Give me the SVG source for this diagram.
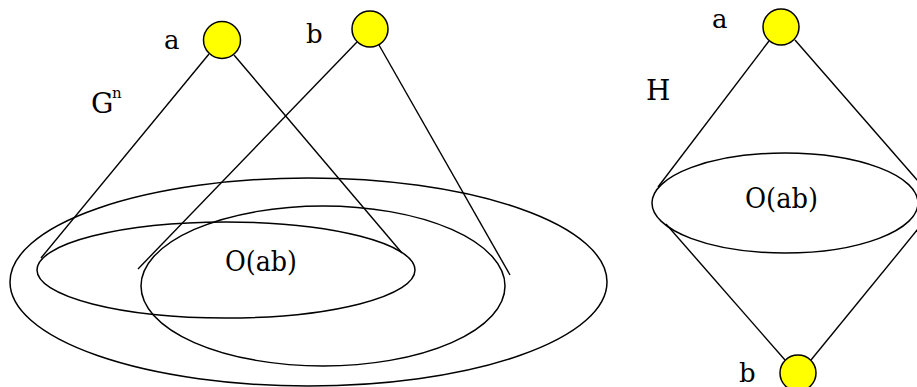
<svg xmlns="http://www.w3.org/2000/svg" width="917" height="387" viewBox="0 0 917 387">
<style>
.bg{fill:#ffffff}
.ell{fill:none;stroke:#000;stroke-width:1.5}
.edge{stroke:#000;stroke-width:1.4;fill:none}
.node{fill:#ffff00;stroke:#000;stroke-width:1.5}
text{font-family:'DejaVu Serif',serif;fill:#000}
.lbl{font-size:26px}
.big{font-size:28px}
.sup{font-size:15px}
</style>
<rect class="bg" x="0" y="0" width="917" height="387"/>
<g id="regions">
  <g id="outer-set"><ellipse class="ell" cx="308.5" cy="282" rx="298.5" ry="104"/></g>
  <g id="set-a"><ellipse class="ell" cx="226" cy="270" rx="189" ry="48"/></g>
  <g id="set-b"><ellipse class="ell" cx="323" cy="286" rx="182" ry="80"/></g>
  <g id="set-h"><ellipse class="ell" cx="785" cy="203" rx="133" ry="50"/></g>
</g>
<g id="connectors">
  <line class="edge" x1="209" y1="54" x2="41" y2="258"/>
  <line class="edge" x1="234" y1="55" x2="402" y2="253"/>
  <line class="edge" x1="357" y1="42" x2="138" y2="269"/>
  <line class="edge" x1="379" y1="45" x2="510" y2="275"/>
  <line class="edge" x1="769" y1="41" x2="658" y2="187"/>
  <line class="edge" x1="795" y1="40" x2="918" y2="181"/>
  <line class="edge" x1="666" y1="224" x2="785" y2="360"/>
  <line class="edge" x1="811" y1="360" x2="918" y2="229"/>
</g>
<g id="node-a-left"><circle class="node" cx="222" cy="40" r="18.5"/><text class="lbl" x="164" y="49">a</text></g>
<g id="node-b-left"><circle class="node" cx="370" cy="29" r="18"/><text class="lbl" x="306" y="43">b</text></g>
<g id="node-a-right"><circle class="node" cx="781" cy="27" r="18"/><text class="lbl" x="712" y="28">a</text></g>
<g id="node-b-right"><circle class="node" cx="798" cy="373" r="18"/><text class="lbl" x="739" y="382">b</text></g>
<g id="labels">
  <text class="big" x="91" y="113">G</text><text class="sup" x="112" y="98">n</text>
  <text class="big" x="646" y="100">H</text>
  <text class="big" x="225" y="271" textLength="72" lengthAdjust="spacingAndGlyphs">O(ab)</text>
  <text class="big" x="745" y="208" textLength="73" lengthAdjust="spacingAndGlyphs">O(ab)</text>
</g>
</svg>
